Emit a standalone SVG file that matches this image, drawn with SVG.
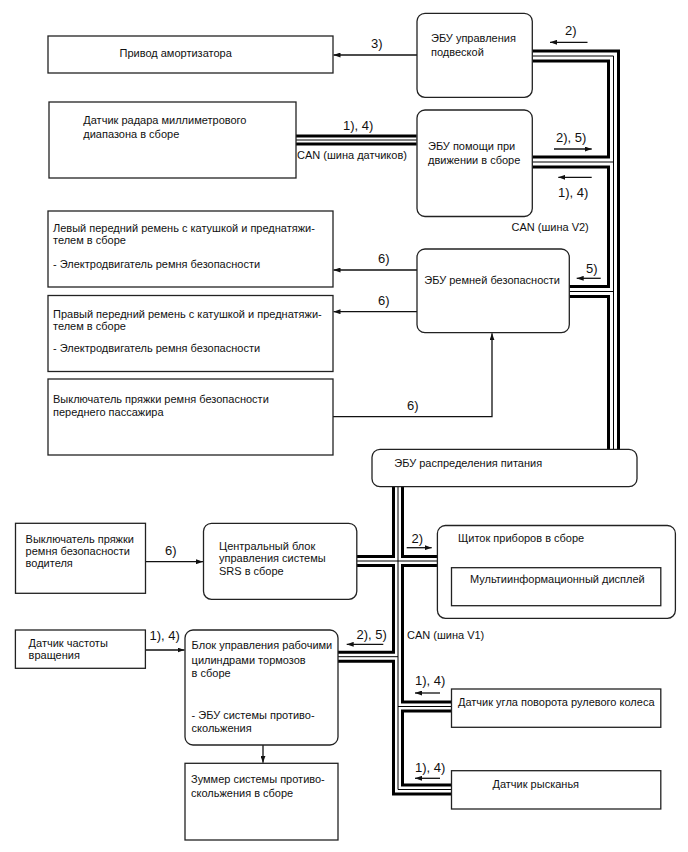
<svg xmlns="http://www.w3.org/2000/svg" xmlns:xlink="http://www.w3.org/1999/xlink" width="688" height="852" viewBox="0 0 688 852">
<style>
.box{fill:#fff;stroke:#222;stroke-width:1.3}
.t{font-family:"Liberation Sans",Arial,sans-serif;font-size:11px;fill:#111}
.lb{font-family:"Liberation Sans",Arial,sans-serif;font-size:13px;fill:#111}
.ar{fill:none;stroke:#111;stroke-width:1.3;marker-end:url(#ah)}
.b13{fill:none;stroke:#000;stroke-width:13}
.w13{fill:none;stroke:#fff;stroke-width:7}
.b12{fill:none;stroke:#000;stroke-width:12}
.w12{fill:none;stroke:#fff;stroke-width:6}
.b11{fill:none;stroke:#000;stroke-width:11}
.w11{fill:none;stroke:#fff;stroke-width:5}
.core{fill:none;stroke:#000;stroke-width:1}
</style>
<defs>
<marker id="ah" viewBox="0 0 7 5" refX="7" refY="2.5" markerWidth="7" markerHeight="5" markerUnits="userSpaceOnUse" orient="auto">
<path d="M0,0 L7,2.5 L0,5 z" fill="#111"/>
</marker>
<path id="v2a" d="M532.3,56 H613.5 V449.3"/>
<path id="v2b" d="M532.3,162 H613.5"/>
<path id="v2c" d="M569.3,291.5 H613.5"/>
<path id="rad" d="M296,140 H416.7"/>
<path id="v1a" d="M398,486.7 V789.5 H451.5"/>
<path id="v1b" d="M356.8,561 H437.4"/>
<path id="v1c" d="M338,656.7 H398"/>
<path id="v1d" d="M398,706.5 H451.5"/>
</defs>
<rect width="688" height="852" fill="#fff"/>

<g id="connectors">
<use xlink:href="#v2a" class="b13"/><use xlink:href="#v2b" class="b13"/><use xlink:href="#v2c" class="b13"/>
<use xlink:href="#rad" class="b11"/>
<use xlink:href="#v1a" class="b12"/><use xlink:href="#v1b" class="b12"/><use xlink:href="#v1c" class="b12"/><use xlink:href="#v1d" class="b12"/>
<use xlink:href="#v2a" class="w13"/><use xlink:href="#v2b" class="w13"/><use xlink:href="#v2c" class="w13"/>
<use xlink:href="#rad" class="w11"/>
<use xlink:href="#v1a" class="w12"/><use xlink:href="#v1b" class="w12"/><use xlink:href="#v1c" class="w12"/><use xlink:href="#v1d" class="w12"/>
<use xlink:href="#v2a" class="core"/><use xlink:href="#v2b" class="core"/><use xlink:href="#v2c" class="core"/>
<use xlink:href="#rad" class="core"/>
<use xlink:href="#v1a" class="core"/><use xlink:href="#v1b" class="core"/><use xlink:href="#v1c" class="core"/><use xlink:href="#v1d" class="core"/>

<path class="ar" d="M417,55 H333.5"/>
<text class="lb" x="371" y="48">3)</text>
<path class="ar" d="M587.5,42.3 H550"/>
<text class="lb" x="565" y="35">2)</text>
<text class="lb" x="343" y="130">1), 4)</text>
<text class="t" x="297" y="158.5">CAN (шина датчиков)</text>
<path class="ar" d="M554,149 H591.7"/>
<text class="lb" x="556" y="141.7">2), 5)</text>
<path class="ar" d="M591.7,177.3 H558.3"/>
<text class="lb" x="558" y="196.7">1), 4)</text>
<text class="t" x="511.5" y="231">CAN (шина V2)</text>
<path class="ar" d="M417,270 H333.5"/>
<text class="lb" x="378" y="263.3">6)</text>
<path class="ar" d="M417,311.7 H333.5"/>
<text class="lb" x="378" y="305">6)</text>
<path class="ar" d="M333,416.7 H492 V333.3"/>
<text class="lb" x="407" y="410">6)</text>
<path class="ar" d="M600.7,278.3 H576.7"/>
<text class="lb" x="586" y="272.7">5)</text>
<path class="ar" d="M145.4,561.7 H203"/>
<text class="lb" x="165" y="555">6)</text>
<path class="ar" d="M406.7,547.7 H431.7"/>
<text class="lb" x="411.5" y="543">2)</text>
<path class="ar" d="M383.3,644.3 H346.7"/>
<text class="lb" x="356.5" y="638.5">2), 5)</text>
<text class="t" x="407" y="638.5">CAN (шина V1)</text>
<path class="ar" d="M145.4,650 H184.5"/>
<text class="lb" x="149.5" y="640">1), 4)</text>
<path class="ar" d="M263,745 V762.8"/>
<path class="ar" d="M440,693 H415"/>
<text class="lb" x="415" y="685">1), 4)</text>
<path class="ar" d="M440,778.3 H415"/>
<text class="lb" x="415" y="771.7">1), 4)</text>
</g>

<g id="shock-actuator">
<rect class="box" x="48" y="36" width="285" height="37"/>
<text class="t" x="119.5" y="57">Привод амортизатора</text>
</g>
<g id="suspension-ecu">
<rect class="box" x="417" y="13.3" width="115.3" height="84" rx="8"/>
<text class="t" x="431" y="42">ЭБУ управления</text>
<text class="t" x="431" y="55.5">подвеской</text>
</g>
<g id="radar-sensor">
<rect class="box" x="49" y="102" width="247" height="76"/>
<text class="t" x="83.3" y="124">Датчик радара миллиметрового</text>
<text class="t" x="83.3" y="137.5">диапазона в сборе</text>
</g>
<g id="driving-assist-ecu">
<rect class="box" x="417" y="110" width="115.3" height="106.5" rx="8"/>
<text class="t" x="428" y="150">ЭБУ помощи при</text>
<text class="t" x="428" y="164.3">движении в сборе</text>
</g>
<g id="left-belt">
<rect class="box" x="48" y="211" width="285" height="76"/>
<text class="t" x="53" y="232">Левый передний ремень с катушкой и преднатяжи-</text>
<text class="t" x="53" y="244">телем в сборе</text>
<text class="t" x="53" y="268">- Электродвигатель ремня безопасности</text>
</g>
<g id="right-belt">
<rect class="box" x="48" y="295.5" width="285" height="76"/>
<text class="t" x="53" y="317.5">Правый передний ремень с катушкой и преднатяжи-</text>
<text class="t" x="53" y="329.7">телем в сборе</text>
<text class="t" x="53" y="352.3">- Электродвигатель ремня безопасности</text>
</g>
<g id="passenger-buckle">
<rect class="box" x="48" y="379" width="285" height="76"/>
<text class="t" x="53" y="403">Выключатель пряжки ремня безопасности</text>
<text class="t" x="53" y="416.3">переднего пассажира</text>
</g>
<g id="belt-ecu">
<rect class="box" x="417" y="249" width="152.3" height="83.7" rx="8"/>
<text class="t" x="424.3" y="284">ЭБУ ремней безопасности</text>
</g>
<g id="power-ecu">
<rect class="box" x="372" y="449.3" width="265" height="37.4" rx="8"/>
<text class="t" x="394.3" y="466.5">ЭБУ распределения питания</text>
</g>
<g id="driver-buckle">
<rect class="box" x="15.5" y="523.3" width="130" height="70"/>
<text class="t" x="25.6" y="543">Выключатель пряжки</text>
<text class="t" x="25.6" y="555">ремня безопасности</text>
<text class="t" x="25.6" y="566.7">водителя</text>
</g>
<g id="srs-unit">
<rect class="box" x="203.5" y="523.3" width="153.3" height="76" rx="8"/>
<text class="t" x="219" y="550">Центральный блок</text>
<text class="t" x="219" y="562.3">управления системы</text>
<text class="t" x="219" y="575">SRS в сборе</text>
</g>
<g id="instrument-cluster">
<rect class="box" x="437.4" y="525.5" width="238" height="92.8" rx="8"/>
<text class="t" x="458" y="542">Щиток приборов в сборе</text>
<rect class="box" x="451.5" y="567.7" width="209.3" height="38"/>
<text class="t" x="470" y="583">Мультиинформационный дисплей</text>
</g>
<g id="speed-sensor">
<rect class="box" x="15.4" y="630" width="130" height="38.3"/>
<text class="t" x="28.6" y="647.3">Датчик частоты</text>
<text class="t" x="28.6" y="659">вращения</text>
</g>
<g id="brake-unit">
<rect class="box" x="185" y="630" width="153" height="115" rx="8"/>
<text class="t" x="191.6" y="649">Блок управления рабочими</text>
<text class="t" x="191.6" y="664">цилиндрами тормозов</text>
<text class="t" x="191.6" y="677.3">в сборе</text>
<text class="t" x="191.6" y="719">- ЭБУ системы противо-</text>
<text class="t" x="191.6" y="732.3">скольжения</text>
</g>
<g id="skid-buzzer">
<rect class="box" x="185" y="763.3" width="153" height="76.7"/>
<text class="t" x="191" y="783">Зуммер системы противо-</text>
<text class="t" x="191" y="797.3">скольжения в сборе</text>
</g>
<g id="steering-sensor">
<rect class="box" x="451.5" y="689" width="209.3" height="38.3"/>
<text class="t" x="458" y="705.7">Датчик угла поворота рулевого колеса</text>
</g>
<g id="yaw-sensor">
<rect class="box" x="451.5" y="770.7" width="209.3" height="38.3"/>
<text class="t" x="492.5" y="788.3">Датчик рысканья</text>
</g>
</svg>
